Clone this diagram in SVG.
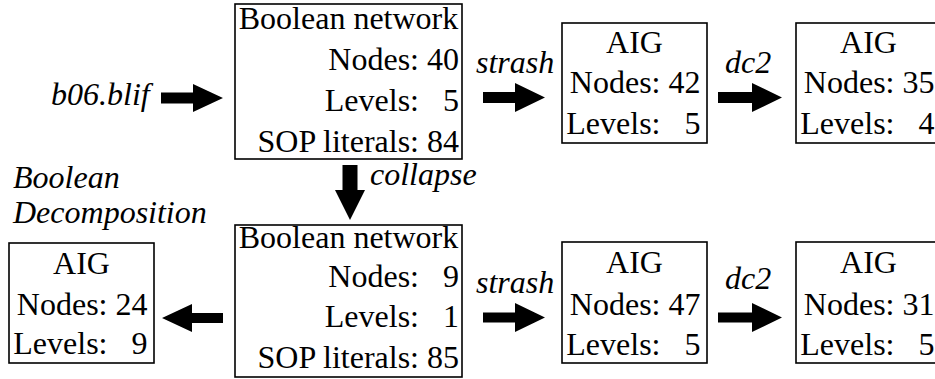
<svg xmlns="http://www.w3.org/2000/svg" width="935" height="379" viewBox="0 0 935 379">
  <rect width="935" height="379" fill="#ffffff"/>

  <!-- connectors: block arrows and their command labels -->
  <g id="connectors" fill="#000000" font-size="32">
    <polygon points="161,92.5 193,92.5 193,84 223,98 193,112 193,103.5 161,103.5"/>
    <polygon points="483,92 515,92 515,83 545,97.5 515,112 515,103 483,103"/>
    <polygon points="718,92 752,92 752,83 782,97.5 752,112 752,103 718,103"/>
    <polygon points="342.5,165 357.5,165 357.5,190 365,190 350,220 335,190 342.5,190"/>
    <polygon points="223,313 192,313 192,304 162,318 192,332 192,323 223,323"/>
    <polygon points="483,312.5 515,312.5 515,303 545,317.5 515,332 515,322.5 483,322.5"/>
    <polygon points="718,312.5 752,312.5 752,303 782,317.5 752,332 752,322.5 718,322.5"/>
    <text font-family="Liberation Serif" font-style="italic" x="51" y="105">b06.blif</text>
    <text font-family="Liberation Serif" font-style="italic" x="476" y="73">strash</text>
    <text font-family="Liberation Serif" font-style="italic" x="725" y="73">dc2</text>
    <text font-family="Liberation Serif" font-style="italic" x="370" y="185">collapse</text>
    <text font-family="Liberation Serif" font-style="italic" x="13" y="188">Boolean</text>
    <text font-family="Liberation Serif" font-style="italic" x="13" y="223">Decomposition</text>
    <text font-family="Liberation Serif" font-style="italic" x="476" y="293">strash</text>
    <text font-family="Liberation Serif" font-style="italic" x="725" y="289">dc2</text>
  </g>

  <!-- Boolean network read from the input file -->
  <g id="bn-initial" fill="#000000" font-size="32">
    <rect x="235" y="4" width="227" height="155" fill="#ffffff" stroke="#000000" stroke-width="1.6"/>
    <text font-family="Liberation Serif" text-anchor="middle" x="348.5" y="29">Boolean network</text>
    <text font-family="Liberation Serif" text-anchor="end" x="459" y="70" xml:space="preserve">Nodes: 40</text>
    <text font-family="Liberation Serif" text-anchor="end" x="459" y="111" xml:space="preserve">Levels:   5</text>
    <text font-family="Liberation Serif" text-anchor="end" x="459" y="152" xml:space="preserve">SOP literals: 84</text>
  </g>

  <!-- AIG after strash -->
  <g id="aig-strash-1" fill="#000000" font-size="32">
    <rect x="562" y="23" width="145" height="120" fill="#ffffff" stroke="#000000" stroke-width="1.6"/>
    <text font-family="Liberation Serif" text-anchor="middle" x="634.5" y="53">AIG</text>
    <text font-family="Liberation Serif" text-anchor="end" x="700.5" y="93" xml:space="preserve">Nodes: 42</text>
    <text font-family="Liberation Serif" text-anchor="end" x="700.5" y="134" xml:space="preserve">Levels:   5</text>
  </g>

  <!-- AIG after dc2 -->
  <g id="aig-dc2-1" fill="#000000" font-size="32">
    <rect x="796" y="23" width="145" height="120" fill="#ffffff" stroke="#000000" stroke-width="1.6"/>
    <text font-family="Liberation Serif" text-anchor="middle" x="868.5" y="53">AIG</text>
    <text font-family="Liberation Serif" text-anchor="end" x="934.5" y="93" xml:space="preserve">Nodes: 35</text>
    <text font-family="Liberation Serif" text-anchor="end" x="934.5" y="134" xml:space="preserve">Levels:   4</text>
  </g>

  <!-- collapsed Boolean network -->
  <g id="bn-collapsed" fill="#000000" font-size="32">
    <rect x="235" y="225" width="227" height="152" fill="#ffffff" stroke="#000000" stroke-width="1.6"/>
    <text font-family="Liberation Serif" text-anchor="middle" x="348.5" y="248">Boolean network</text>
    <text font-family="Liberation Serif" text-anchor="end" x="459" y="287" xml:space="preserve">Nodes:   9</text>
    <text font-family="Liberation Serif" text-anchor="end" x="459" y="327" xml:space="preserve">Levels:   1</text>
    <text font-family="Liberation Serif" text-anchor="end" x="459" y="368" xml:space="preserve">SOP literals: 85</text>
  </g>

  <!-- AIG from Boolean decomposition -->
  <g id="aig-decomp" fill="#000000" font-size="32">
    <rect x="9" y="243" width="145" height="120" fill="#ffffff" stroke="#000000" stroke-width="1.6"/>
    <text font-family="Liberation Serif" text-anchor="middle" x="81.5" y="274">AIG</text>
    <text font-family="Liberation Serif" text-anchor="end" x="147.5" y="315" xml:space="preserve">Nodes: 24</text>
    <text font-family="Liberation Serif" text-anchor="end" x="147.5" y="354" xml:space="preserve">Levels:   9</text>
  </g>

  <!-- AIG after strash of the collapsed network -->
  <g id="aig-strash-2" fill="#000000" font-size="32">
    <rect x="562" y="242" width="145" height="121" fill="#ffffff" stroke="#000000" stroke-width="1.6"/>
    <text font-family="Liberation Serif" text-anchor="middle" x="634.5" y="273">AIG</text>
    <text font-family="Liberation Serif" text-anchor="end" x="700.5" y="315" xml:space="preserve">Nodes: 47</text>
    <text font-family="Liberation Serif" text-anchor="end" x="700.5" y="355" xml:space="preserve">Levels:   5</text>
  </g>

  <!-- AIG after dc2 of the collapsed network -->
  <g id="aig-dc2-2" fill="#000000" font-size="32">
    <rect x="796" y="242" width="145" height="121" fill="#ffffff" stroke="#000000" stroke-width="1.6"/>
    <text font-family="Liberation Serif" text-anchor="middle" x="868.5" y="273">AIG</text>
    <text font-family="Liberation Serif" text-anchor="end" x="934.5" y="315" xml:space="preserve">Nodes: 31</text>
    <text font-family="Liberation Serif" text-anchor="end" x="934.5" y="355" xml:space="preserve">Levels:   5</text>
  </g>
</svg>
